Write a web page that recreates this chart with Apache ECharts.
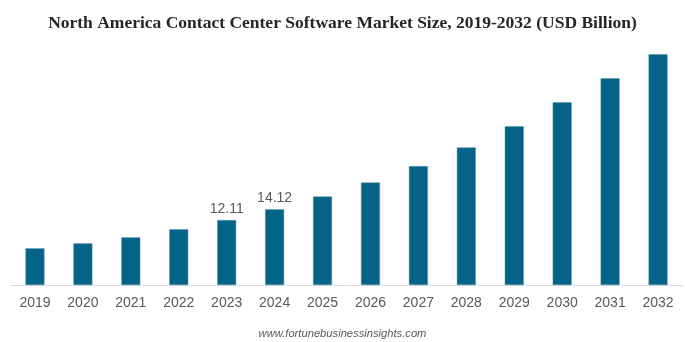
<!DOCTYPE html>
<html>
<head>
<meta charset="utf-8">
<script src="https://cdn.jsdelivr.net/npm/echarts@6/dist/echarts.min.js"></script>
<style>
html,body{margin:0;padding:0;background:#fff;}
#chart{width:685px;height:342px;}
</style>
</head>
<body>
<div id="chart"></div>
<script>
const years = ['2019','2020','2021','2022','2023','2024','2025','2026','2027','2028','2029','2030','2031','2032'];
const marketSize = [6.84, 7.77, 8.89, 10.38, 12.11, 14.12, 16.53, 19.14, 22.18, 25.67, 29.64, 34.11, 38.58, 43.06];
const labeledYears = ['2023','2024'];
const titleText = 'North America Contact Center Software Market Size, 2019-2032 (USD Billion)';
const sourceText = 'www.fortunebusinessinsights.com';

const chart = echarts.init(document.getElementById('chart'), null, {renderer:'canvas'});
chart.setOption({
  animation: false,
  backgroundColor: '#ffffff',
  title: [{
    text: titleText,
    left: 'center',
    top: 9,
    textStyle: {fontFamily: 'Liberation Serif', fontWeight: 'bold', fontSize: 17.5, color: '#262626'}
  }, {
    text: sourceText,
    left: 'center',
    top: 323,
    textStyle: {fontFamily: 'Liberation Sans', fontStyle: 'italic', fontWeight: 'normal', fontSize: 11.2, color: '#595959'}
  }],
  grid: {left: 11, right: 3, top: 17, bottom: 57, containLabel: false},
  xAxis: {
    type: 'category',
    data: years,
    axisLine: {show: true, lineStyle: {color: '#d9d9d9', width: 1}},
    axisTick: {show: false},
    axisLabel: {color: '#595959', fontFamily: 'Liberation Sans', fontSize: 14, margin: 11}
  },
  yAxis: {
    type: 'value',
    min: 0,
    max: 50,
    show: false,
    splitLine: {show: false}
  },
  series: [{
    type: 'bar',
    data: marketSize.map((v, i) => ({
      value: v,
      label: {show: labeledYears.includes(years[i])}
    })),
    barWidth: 19,
    itemStyle: {color: '#05638A', borderColor: '#5a93ad', borderWidth: 0.5},
    label: {
      position: 'top',
      distance: 4,
      color: '#595959',
      fontFamily: 'Liberation Sans',
      fontSize: 14,
      formatter: p => p.value.toFixed(2)
    }
  }]
});
</script>
</body>
</html>
